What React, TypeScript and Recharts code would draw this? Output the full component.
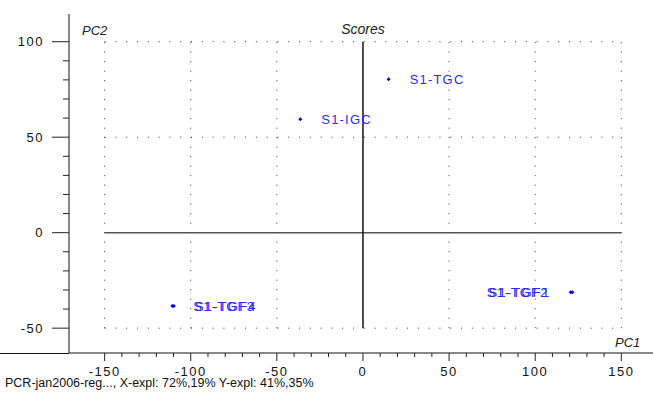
import { ScatterChart, Scatter, XAxis, YAxis, ReferenceLine } from "recharts"

// PCA scores (PC1 / PC2)
const sampleNames = ["S1-TGC", "S1-IGC", "S1-TGF1", "S1-TGF2", "S1-TGF3", "S1-TGF4"]
const pc1Scores = [14.9, -36.4, 121.6, 120.6, -110.7, -109.8]
const pc2Scores = [80.3, 59.4, -31.2, -31.2, -38.4, -38.4]

const xTicks = [-150, -140, -130, -120, -110, -100, -90, -80, -70, -60, -50, -40, -30, -20, -10, 0, 10, 20, 30, 40, 50, 60, 70, 80, 90, 100, 110, 120, 130, 140, 150]
const yTicks = [-50, -40, -30, -20, -10, 0, 10, 20, 30, 40, 50, 60, 70, 80, 90, 100]
const xMajor = [-150, -100, -50, 0, 50, 100, 150]
const yMajor = [-50, 0, 50, 100]
const xGrid = [-150, -100, -50, 50, 100, 150]
const yGrid = [-50, 50, 100]

const footer = "PCR-jan2006-reg..., X-expl: 72%,19%  Y-expl: 41%,35%"

const data = sampleNames.map((name, i) => ({ name, pc1: pc1Scores[i], pc2: pc2Scores[i] }))

const FONT = "'Liberation Sans', Arial, sans-serif"
const DOTTED = { stroke: "#333", strokeWidth: 1 }

function YTick(props: any) {
  const { x, y, payload } = props
  const major = yMajor.includes(payload.value)
  return (
    <g>
      <line x1={x - (major ? 17 : 6)} x2={x} y1={y} y2={y} stroke="#222" />
      {major && (
        <text x={x - 25} y={y} textAnchor="end" dominantBaseline="central" fontSize={13} letterSpacing={1.5} fontFamily={FONT} fill="#111">
          {payload.value}
        </text>
      )}
    </g>
  )
}

function XTick(props: any) {
  const { x, y, payload } = props
  const major = xMajor.includes(payload.value)
  return (
    <g>
      <line x1={x} x2={x} y1={y} y2={y + (major ? 8 : 4)} stroke="#222" />
      {major && (
        <text x={x} y={y + 18} textAnchor="middle" dominantBaseline="central" fontSize={13} letterSpacing={1.5} fontFamily={FONT} fill="#111">
          {payload.value}
        </text>
      )}
    </g>
  )
}

function ScorePoint(props: any) {
  const { cx, cy, payload } = props
  const onLeft = payload.pc1 > 100
  return (
    <g>
      <path d={`M${cx} ${cy - 2}L${cx + 2} ${cy}L${cx} ${cy + 2}L${cx - 2} ${cy}Z`} fill="#0000dd" />
      <text
        x={onLeft ? cx - 22 : cx + 21}
        y={cy}
        textAnchor={onLeft ? "end" : "start"}
        dominantBaseline="central"
        fontSize={13}
        letterSpacing={1.2}
        fontFamily={FONT}
        fill="#2b2bff"
      >
        {payload.name}
      </text>
    </g>
  )
}

export default function App() {
  return (
    <div style={{ position: "absolute", left: 0, top: 0, width: 653, height: 401, background: "#fff" }}>
      <ScatterChart width={653} height={401} margin={{ top: 14, right: 0, bottom: 0, left: 0 }}>
        <XAxis
          type="number"
          dataKey="pc1"
          domain={[-170.7, 168.4]}
          allowDataOverflow
          ticks={xTicks}
          interval={0}
          height={48}
          tickSize={0}
          tickMargin={0}
          tick={<XTick />}
          axisLine={{ stroke: "#111" }}
        />
        <YAxis
          type="number"
          dataKey="pc2"
          domain={[-63, 114.5]}
          allowDataOverflow
          ticks={yTicks}
          interval={0}
          width={69}
          tickSize={0}
          tickMargin={0}
          tick={<YTick />}
          axisLine={{ stroke: "#111" }}
        />
        {xGrid.map(v => (
          <ReferenceLine key={"gx" + v} segment={[{ x: v, y: -50 }, { x: v, y: 100 }]} {...DOTTED} strokeDasharray="1 8.5" />
        ))}
        {yGrid.map(v => (
          <ReferenceLine key={"gy" + v} segment={[{ x: -150, y: v }, { x: 150, y: v }]} {...DOTTED} strokeDasharray="1 9.8" />
        ))}
        <ReferenceLine segment={[{ x: -150, y: 0 }, { x: 150, y: 0 }]} stroke="#555" strokeWidth={1.5} />
        <ReferenceLine segment={[{ x: 0, y: -50 }, { x: 0, y: 100 }]} stroke="#111" strokeWidth={1.5} />
        <Scatter data={data} shape={<ScorePoint />} isAnimationActive={false} />
        <line x1={0} x2={69} y1={353.5} y2={353.5} stroke="#111" />
        <text x={363} y={29} textAnchor="middle" dominantBaseline="central" fontSize={14} fontStyle="italic" fontFamily={FONT} fill="#222">
          Scores
        </text>
        <text x={82} y={30} dominantBaseline="central" fontSize={13} fontStyle="italic" fontFamily={FONT} fill="#222">
          PC2
        </text>
        <text x={615} y={342} dominantBaseline="central" fontSize={13} fontStyle="italic" fontFamily={FONT} fill="#222">
          PC1
        </text>
        <text x={5} y={383} dominantBaseline="central" fontSize={12.5} fontFamily={FONT} fill="#111">
          {footer}
        </text>
      </ScatterChart>
    </div>
  )
}
